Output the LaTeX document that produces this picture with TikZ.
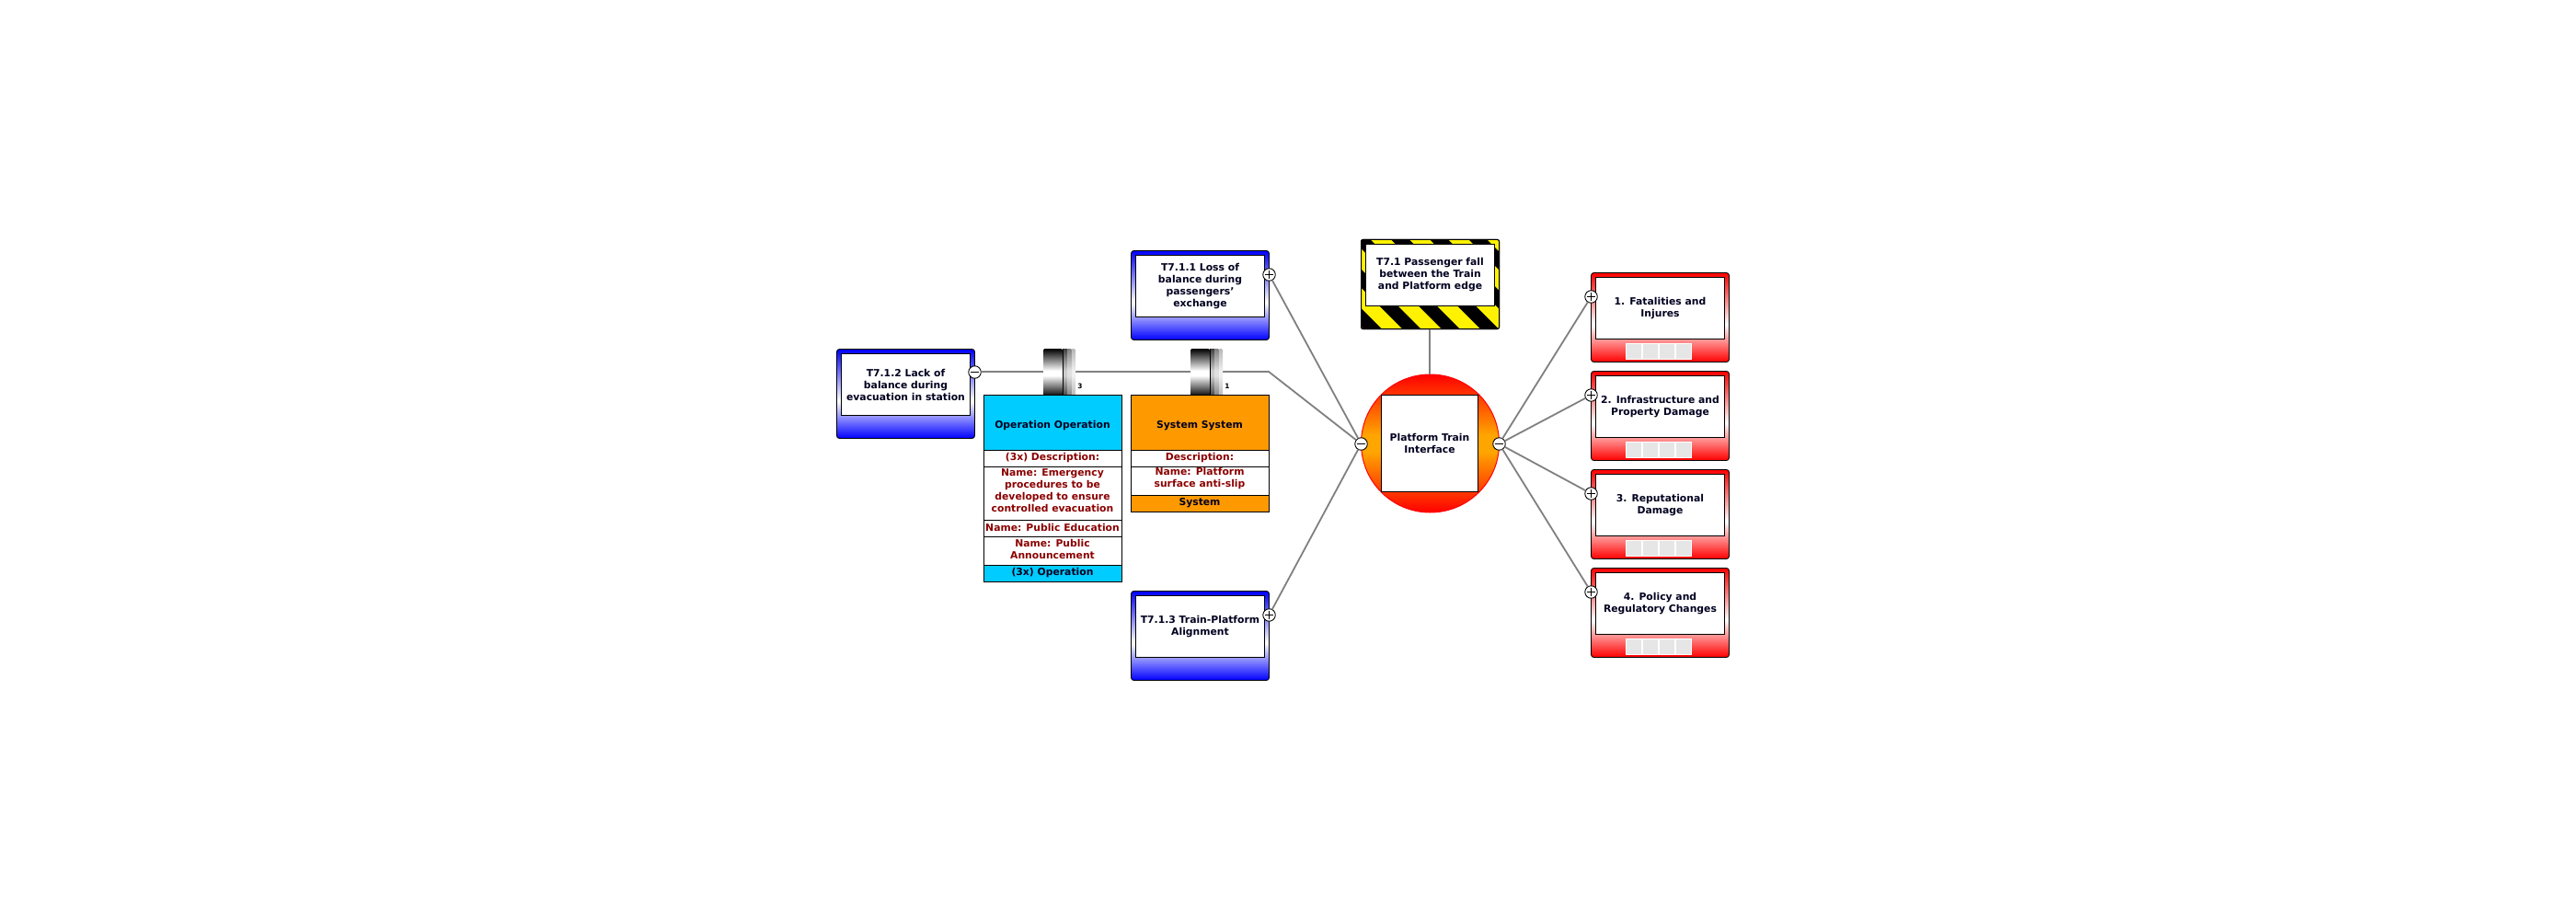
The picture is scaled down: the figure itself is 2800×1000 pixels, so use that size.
\documentclass[tikz,border=0pt]{standalone}
\usepackage{fontspec}
\setmainfont{DejaVu Sans}
\usetikzlibrary{calc}
\definecolor{lnk}{HTML}{808080}
\definecolor{ink}{HTML}{000020}
\definecolor{redink}{HTML}{8B0000}
\definecolor{cyanblock}{HTML}{00CCFF}
\definecolor{orangeblock}{HTML}{FF9900}
\definecolor{hubmid}{HTML}{FFA500}
\definecolor{cell}{HTML}{E6E6E6}
\pgfdeclareverticalshading{bluegrad}{100bp}{color(0bp)=(blue); color(25bp)=(blue); color(46bp)=(white); color(75bp)=(blue); color(100bp)=(blue)}
\pgfdeclareverticalshading{redgrad}{100bp}{color(0bp)=(red); color(25bp)=(red); color(46bp)=(white); color(75bp)=(red); color(100bp)=(red)}
\pgfdeclareverticalshading{hubgrad}{100bp}{color(0bp)=(red); color(25bp)=(red); color(47bp)=(hubmid); color(53bp)=(hubmid); color(75bp)=(red); color(100bp)=(red)}
\pgfdeclareverticalshading{barA}{100bp}{color(0bp)=(black); color(25bp)=(black); color(47bp)=(white); color(52bp)=(white); color(75bp)=(black); color(100bp)=(black)}
\pgfdeclareverticalshading{barB}{100bp}{color(0bp)=(black!75); color(25bp)=(black!75); color(47bp)=(black!20); color(52bp)=(black!20); color(75bp)=(black!75); color(100bp)=(black!75)}
\pgfdeclareverticalshading{barC}{100bp}{color(0bp)=(black!50); color(25bp)=(black!50); color(47bp)=(black!12); color(52bp)=(black!12); color(75bp)=(black!50); color(100bp)=(black!50)}
\pgfdeclareverticalshading{barD}{100bp}{color(0bp)=(black!28); color(25bp)=(black!28); color(47bp)=(black!6); color(52bp)=(black!6); color(75bp)=(black!28); color(100bp)=(black!28)}
\tikzset{
  x=0.5pt,y=-0.5pt,
  every node/.style={outer sep=0pt,inner sep=0pt},
  txt/.style={font=\fontsize{5.4}{6.5}\selectfont\bfseries,align=center,text=ink},
  redtxt/.style={txt,text=redink},
  outerbox/.style={draw=black,line width=0.45pt,rounded corners=1.5pt,minimum width=75pt,minimum height=48.5pt,shade},
  bluebox/.style={outerbox,shading=bluegrad},
  redbox/.style={outerbox,shading=redgrad},
  innerbox/.style={txt,draw=black,line width=0.45pt,fill=white,minimum width=70pt,minimum height=33.5pt},
  hazardbox/.style={draw=black,line width=0.5pt,rounded corners=1pt,fill=black,minimum width=75pt,minimum height=48.5pt},
  hubnode/.style={circle,draw=red,line width=0.5pt,shade,shading=hubgrad,minimum size=75pt},
  hubsquare/.style={txt,draw=black,line width=0.5pt,fill=white,minimum size=52.5pt},
  toggle/.style={circle,draw=black,line width=0.45pt,fill=white,minimum size=6.75pt},
  plusnode/.style={toggle,path picture={
     \draw[line width=0.45pt,black] ([xshift=-2.25pt]path picture bounding box.center) -- ([xshift=2.25pt]path picture bounding box.center);
     \draw[line width=0.45pt,black] ([yshift=-2.25pt]path picture bounding box.center) -- ([yshift=2.25pt]path picture bounding box.center);}},
  minusnode/.style={toggle,path picture={
     \draw[line width=0.45pt,black] ([xshift=-2.25pt]path picture bounding box.center) -- ([xshift=2.25pt]path picture bounding box.center);}},
  link/.style={draw=lnk,line width=0.9pt},
  cellnode/.style={draw=white,line width=0.4pt,fill=cell,minimum size=8.6pt},
  barmain/.style={shade,shading=barA,rounded corners=1pt,minimum width=10.5pt,minimum height=26pt},
  barB/.style={shade,shading=barB,minimum width=2.4pt,minimum height=26pt},
  barC/.style={shade,shading=barC,minimum width=2.4pt,minimum height=26pt},
  barD/.style={shade,shading=barD,rounded corners=0.8pt,minimum width=2.4pt,minimum height=26pt},
  rowbox/.style={draw=black,line width=0.5pt,fill=white,minimum width=75pt},
  headerbox/.style={draw=black,line width=0.5pt,minimum width=75pt},
  barlabel/.style={font=\fontsize{3.7}{4}\selectfont\bfseries,text=black},
}
\begin{document}
\begin{tikzpicture}
\useasboundingbox (0,0) rectangle (2800,1000);
\fill[white] (0,0) rectangle (2800,1000);

% threat boxes
\node[bluebox] (t112o) at (984.5,428) {};
\node[innerbox] (t112) at (984.5,418) {T7.1.2 Lack of\\balance during\\evacuation in station};
\node[bluebox] (t111o) at (1304.5,321) {};
\node[innerbox] (t111) at (1304.5,311) {T7.1.1 Loss of\\balance during\\passengers'\\exchange};
\node[bluebox] (t113o) at (1304.5,691) {};
\node[innerbox] (t113) at (1304.5,681) {T7.1.3 Train-Platform\\Alignment};

% top event
\node[hazardbox] (hazard) at (1554.5,309) {};
\begin{scope}
  \clip[rounded corners=1pt] (hazard.south west) rectangle (hazard.north east);
  \foreach \k in {-2,...,4}{
    \pgfmathsetmacro{\a}{1187+42.3*\k}
    \fill[yellow] (\a+260,260) -- (\a+282,260) -- (\a+379,357) -- (\a+357,357) -- cycle;
  }
\end{scope}
\draw[black,line width=0.5pt,rounded corners=1pt] (hazard.south west) rectangle (hazard.north east);
\node[innerbox] (hazardtxt) at (1554.5,299) {T7.1 Passenger fall\\between the Train\\and Platform edge};

% hub
\node[hubnode] (hub) at (1554.5,482) {};
\node[hubsquare] (hubtxt) at (1554,482) {Platform Train\\Interface};

% consequence boxes
\foreach \n/\ty/\lab in {c1/297/{1. Fatalities and\\Injures},c2/404/{2. Infrastructure and\\Property Damage},c3/511/{3. Reputational\\Damage},c4/618/{4. Policy and\\Regulatory Changes}}{
  \node[redbox] (\n o) at (1804.5,\ty+48) {};
  \node[innerbox] (\n) at (1804.5,\ty+38) {\lab};
  \foreach \i/\xx in {1/1775.5,2/1793.5,3/1811.5,4/1829.5}{
    \node[cellnode] (\n cell\i) at (\xx,\ty+84.5) {};
  }
}

% toggles
\node[minusnode] (m112) at (1059.5,404.5) {};
\node[plusnode] (p111) at (1379.5,298.5) {};
\node[plusnode] (p113) at (1379.5,668.5) {};
\node[minusnode] (hubl) at (1479.5,482.5) {};
\node[minusnode] (hubr) at (1629.5,482.5) {};
\node[plusnode] (pc1) at (1729.5,322.5) {};
\node[plusnode] (pc2) at (1729.5,429.5) {};
\node[plusnode] (pc3) at (1729.5,536.5) {};
\node[plusnode] (pc4) at (1729.5,643.5) {};

% connectors
\coordinate (bend) at (1379,404);
\draw[link] (m112.east |- bend) -- (bend) -- (hubl);
\draw[link] (p111) -- (hubl);
\draw[link] (p113) -- (hubl);
\draw[link] (hubtxt |- hazard.south) -- (hubtxt |- hub.north);
\foreach \t in {pc1,pc2,pc3,pc4}{ \draw[link] (hubr) -- (\t); }

% barriers
\foreach \n/\bx/\num in {ba/1134/3,bb/1294/1}{
  \node[barD] (\n d) at (\bx+32.7,405) {};
  \node[barC] (\n c) at (\bx+28,405) {};
  \node[barB] (\n b) at (\bx+23.5,405) {};
  \node[barmain] (\n a) at (\bx+10.5,405) {};
  \draw[black,line width=0.5pt] (\n a.north east) -- (\n a.south east);
  \node[barlabel] (\n l) at (\bx+40,420) {\num};
}

% Operation block
\node[headerbox,fill=cyanblock,minimum height=30pt] (oph) at (1144.5,459.5) {};
\node[rowbox,minimum height=9pt] (op1) at (1144.5,498.5) {};
\node[rowbox,minimum height=29pt] (op2) at (1144.5,536.5) {};
\node[rowbox,minimum height=9pt] (op3) at (1144.5,574.5) {};
\node[rowbox,minimum height=15.5pt] (op4) at (1144.5,599) {};
\node[headerbox,fill=cyanblock,minimum height=9pt] (opf) at (1144.5,623.5) {};
\node[txt] at (1144,462.5) {Operation Operation};
\node[redtxt] at (1144,497.5) {(3x) Description:};
\node[redtxt] at (1144,533.5) {Name: Emergency\\procedures to be\\developed to ensure\\controlled evacuation};
\node[redtxt] at (1144,573.5) {Name: Public Education};
\node[redtxt] at (1144,596.5) {Name: Public\\Announcement};
\node[txt] at (1144,622.5) {(3x) Operation};

% System block
\node[headerbox,fill=orangeblock,minimum height=30pt] (syh) at (1304.5,459.5) {};
\node[rowbox,minimum height=9pt] (sy1) at (1304.5,498.5) {};
\node[rowbox,minimum height=15.5pt] (sy2) at (1304.5,523) {};
\node[headerbox,fill=orangeblock,minimum height=9pt] (syf) at (1304.5,547.5) {};
\node[txt] at (1304,462.5) {System System};
\node[redtxt] at (1304,497.5) {Description:};
\node[redtxt] at (1304,520.5) {Name: Platform\\surface anti-slip};
\node[txt] at (1304,546.5) {System};
\end{tikzpicture}
\end{document}
